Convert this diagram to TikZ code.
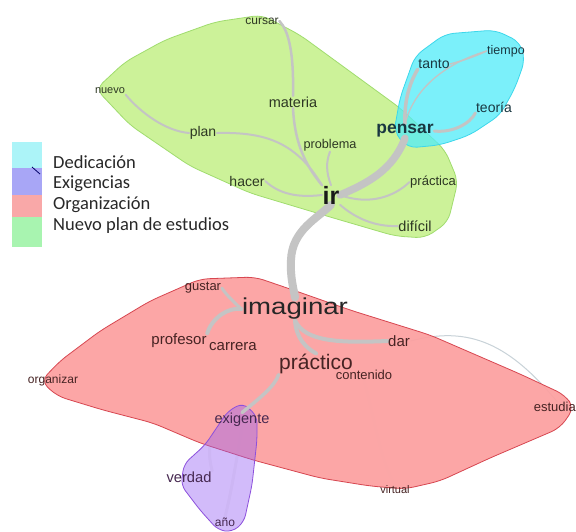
\documentclass[tikz,border=0pt]{standalone}
\usepackage{fontspec}
\setmainfont{Liberation Sans}
\newfontfamily\legendfont{Carlito}
\usepackage{graphicx}

\definecolor{edgegray}{RGB}{196,196,196}
\definecolor{faintgray}{RGB}{200,210,216}
\definecolor{paleline}{RGB}{245,245,245}
\definecolor{hullgreen}{RGB}{204,242,153}
\definecolor{hullgreenline}{RGB}{160,220,110}
\definecolor{hullcyan}{RGB}{80,236,249}
\definecolor{hullcyanline}{RGB}{60,215,235}
\definecolor{hullred}{RGB}{252,160,160}
\definecolor{hullredline}{RGB}{215,70,80}
\definecolor{hullpurple}{RGB}{150,95,244}
\definecolor{hullpurpleline}{RGB}{140,80,220}
\definecolor{txtG}{RGB}{45,55,35}
\definecolor{txtC}{RGB}{25,55,65}
\definecolor{txtR}{RGB}{70,35,35}
\definecolor{txtP}{RGB}{70,40,80}
\definecolor{legtext}{RGB}{40,40,40}
\definecolor{legcyan}{RGB}{172,244,248}
\definecolor{legpurple}{RGB}{168,166,246}
\definecolor{legred}{RGB}{249,168,168}
\definecolor{leggreen}{RGB}{168,244,176}

\pgfdeclarelayer{paper}
\pgfdeclarelayer{faint}
\pgfdeclarelayer{hull}
\pgfdeclarelayer{edges}
\pgfsetlayers{paper,faint,hull,edges,main}

\tikzset{
  lab/.style={font=\fontsize{#1}{#1}\selectfont, inner sep=0.5pt},
  boldlab/.style={font=\bfseries\fontsize{#1}{#1}\selectfont, inner sep=0.5pt},
  edge/.style={draw=edgegray, line cap=round, line width=#1},
  faintedge/.style={draw=faintgray, line cap=round, line width=#1},
  hull/.style={rounded corners=9pt, line width=0.8pt},
  legtxt/.style={font=\legendfont\fontsize{18.5}{18.5}\selectfont, text=legtext, anchor=base west, inner sep=0pt},
}

\begin{document}
\begin{tikzpicture}[x=1pt,y=-1pt]
\useasboundingbox (0,0) rectangle (576,531);
\begin{pgfonlayer}{paper}
\fill[white] (0,0) rectangle (576,531);
\end{pgfonlayer}

% ---- word labels ----
\begin{scope}[text=txtG]
\node[lab=12]   (cursar)   at (262,21)  {cursar};
\node[lab=11]   (nuevo)    at (110,91)  {nuevo};
\node[lab=14.5] (materia)  at (293,102) {materia};
\node[lab=14]   (plan)     at (203,133) {plan};
\node[lab=12.7] (problema) at (330,145) {problema};
\node[lab=14]   (hacer)    at (247,181) {hacer};
\node[boldlab=25, text=black!90] (ir) at (331,195) {ir};
\node[lab=13]   (practica) at (433,182) {práctica};
\node[lab=14.5] (dificil)  at (415,226) {difícil};
\end{scope}
\begin{scope}[text=txtC]
\node[boldlab=17.4] (pensar) at (405,131) {pensar};
\node[lab=14]   (tanto)    at (434,64)  {tanto};
\node[lab=12.5] (tiempo)   at (506,51)  {tiempo};
\node[lab=14]   (teoria)   at (494,107) {teoría};
\end{scope}
\begin{scope}[text=txtR]
\node[lab=13]   (gustar)   at (203,288) {gustar};
\node[lab=23, text=black!85] (imaginar) at (295,309) {\scalebox{1.2}[1]{imaginar}};
\node[lab=15]   (profesor) at (179,341) {profesor};
\node[lab=15]   (carrera)  at (233,347) {carrera};
\node[lab=15]   (dar)      at (399,341) {dar};
\node[lab=21]   (practico) at (316,364) {práctico};
\node[lab=13]   (contenido) at (364,375) {contenido};
\node[lab=12]   (organizar) at (53,380) {organizar};
\node[lab=13]   (estudiar) at (557,407) {estudiar};
\node[lab=11]   (virtual)  at (395,490) {virtual};
\end{scope}
\begin{scope}[text=txtP]
\node[lab=14.5] (exigente) at (242,420) {exigente};
\node[lab=14.7] (verdad)   at (189,477) {verdad};
\node[lab=12]   (anio)     at (225,522) {año};
\end{scope}

% ---- legend ----
\fill[legcyan]   (12,142) rectangle (42,168);
\fill[legpurple] (12,168) rectangle (42,195);
\fill[legred]    (12,195) rectangle (42,217);
\fill[leggreen]  (12,217) rectangle (42,247);
\draw[blue!40!black, line width=0.8pt] (32,167) -- (40,174);
\node[legtxt] (leg1) at (53,168)   {Dedicación};
\node[legtxt] (leg2) at (53,188.5) {Exigencias};
\node[legtxt] (leg3) at (53,209.5) {Organización};
\node[legtxt] (leg4) at (53,230)   {Nuevo plan de estudios};

% ---- faint links, seen through the cluster fills ----
\begin{pgfonlayer}{faint}
\draw[faintedge=1] (dar.east) .. controls (470,325) and (510,345) .. (estudiar.north);
\draw[faintedge=3, draw=paleline] (contenido.south) .. controls (375,420) and (380,460) .. (virtual.north);
\draw[faintedge=3, draw=paleline] (exigente.south west) .. controls (215,432) and (205,445) .. (verdad.north east);
\draw[faintedge=3, draw=paleline] (exigente.south) .. controls (238,450) and (232,490) .. (anio.north);
\end{pgfonlayer}

% ---- cluster hulls ----
\begin{pgfonlayer}{hull}
\filldraw[hull, fill=hullgreen, draw=hullgreenline]
  (96,89) -- (125,62) -- (165,40) -- (215,22) -- (262,15) -- (300,35) -- (400,108)
  -- (445,150) -- (458,181) -- (448,222) -- (425,238) -- (395,236) -- (330,217)
  -- (250,193) -- (190,166) -- (130,125) -- cycle;
\filldraw[hull, fill=hullcyan, fill opacity=0.75, draw=hullcyanline]
  (394,132) -- (400,98) -- (415,56) -- (445,34) -- (495,30) -- (520,42) -- (525,60)
  -- (515,88) -- (500,115) -- (470,135) -- (440,145) -- (408,148) -- cycle;
\filldraw[hull, fill=hullred, fill opacity=0.93, draw=hullredline]
  (41,381) -- (60,361) -- (100,331) -- (150,301) -- (200,279) -- (255,277)
  -- (293,290) -- (350,310) -- (430,335) -- (520,374) -- (565,395) -- (574,408)
  -- (560,428) -- (490,458) -- (440,481) -- (405,489) -- (370,486) -- (320,478)
  -- (253,460) -- (200,443) -- (153,423) -- (103,410) -- (57,396) -- cycle;
\filldraw[hull, rounded corners=7pt, fill=hullpurple, fill opacity=0.42, draw=hullpurpleline]
  (243,403) -- (257,416) -- (257,440) -- (252,485) -- (244,522) -- (232,532)
  -- (218,530) -- (200,510) -- (181,485) -- (184,464) -- (205,445) -- (228,411) -- cycle;
\end{pgfonlayer}

% ---- links between words ----
\begin{pgfonlayer}{edges}
% trunk
\draw[edge=7.5] (ir.east) .. controls (368,183) and (393,170) .. (pensar.south);
\draw[edge=8] (ir.south) .. controls (318,218) and (292,230) .. (291,260)
  .. controls (290,278) and (294,290) .. (imaginar.north);
% pensar branch
\draw[edge=3.5] (pensar.north) .. controls (404,100) and (410,82) .. (tanto.south west);
\draw[edge=3] (pensar.east) .. controls (452,133) and (470,124) .. (teoria.south west);
\draw[edge=1.3] (pensar.north) .. controls (415,85) and (450,62) .. (tiempo.west);
\draw[edge=1.5] (tanto.east) .. controls (465,60) and (476,56) .. (tiempo.west);
% ir branch
\draw[edge=2.5] (cursar.east) .. controls (288,30) and (294,50) .. (materia.north);
\draw[edge=2.5] (materia.south) .. controls (295,150) and (310,170) .. (ir.north west);
\draw[edge=2] (nuevo.south east) .. controls (140,112) and (165,131) .. (plan.west);
\draw[edge=2] (plan.east) .. controls (262,132) and (295,140) .. (ir.north west);
\draw[edge=2] (problema.south) .. controls (326,162) and (326,172) .. (ir.north);
\draw[edge=2] (hacer.east) .. controls (282,197) and (305,197) .. (ir.west);
\draw[edge=2] (ir.east) .. controls (370,206) and (395,196) .. (practica.west);
\draw[edge=2] (ir.south east) .. controls (355,218) and (375,227) .. (dificil.west);
% imaginar branch
\draw[edge=3] (gustar.east) .. controls (228,297) and (235,303) .. (imaginar.west);
\draw[edge=4] (profesor.north east) .. controls (212,318) and (228,307) .. (imaginar.west);
\draw[edge=4] (imaginar.south) .. controls (305,342) and (340,343) .. (dar.west);
\draw[edge=4] (imaginar.south) .. controls (296,338) and (306,348) .. (practico.north);
\draw[edge=3.5] (practico.south west) .. controls (275,386) and (260,398) .. (exigente.north);
\end{pgfonlayer}
\end{tikzpicture}
\end{document}
